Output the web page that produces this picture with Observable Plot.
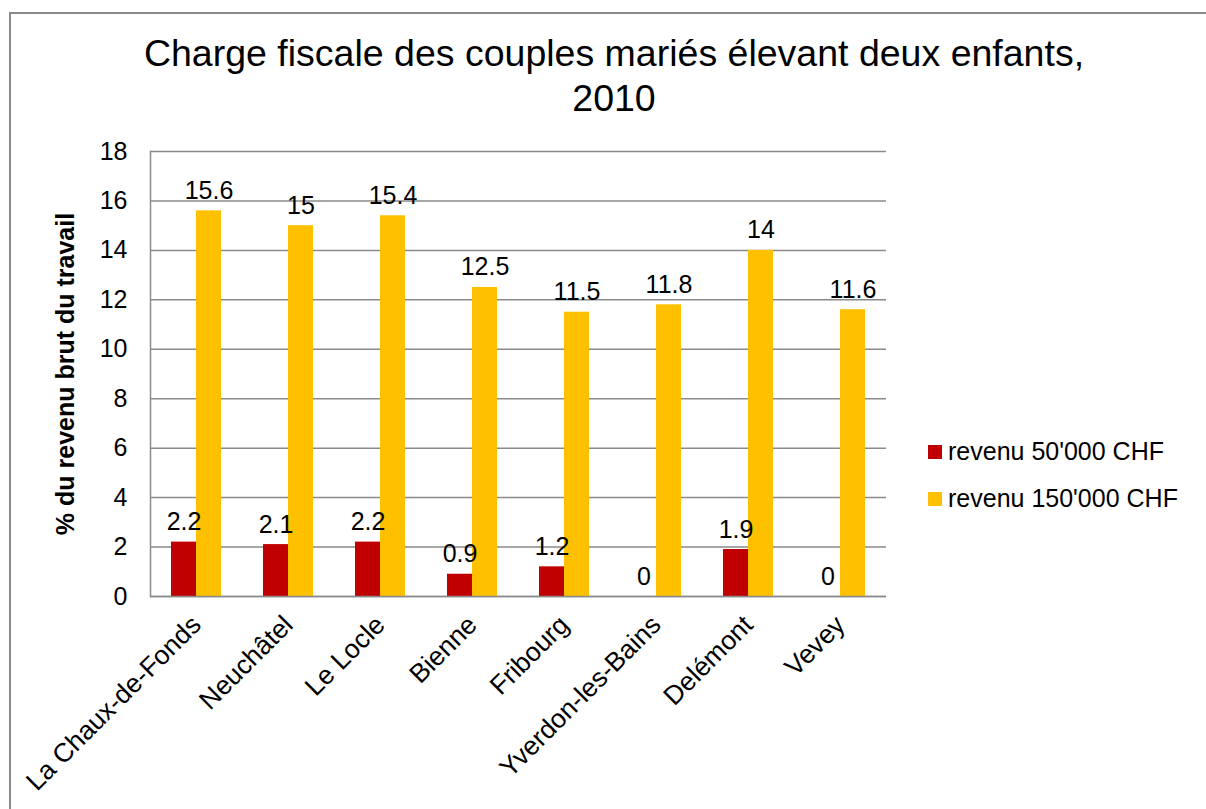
<!DOCTYPE html>
<html>
<head>
<meta charset="utf-8">
<script src="https://cdn.jsdelivr.net/npm/d3@7"></script>
<script src="https://cdn.jsdelivr.net/npm/@observablehq/plot@0.6"></script>
<style>
  html, body { margin: 0; padding: 0; background: #fff; }
  #wrap { position: relative; width: 1206px; height: 809px; overflow: hidden; font-family: "Liberation Sans", Arial, sans-serif; color: #000; }
  #border { position: absolute; left: 9px; top: 12px; width: 1400px; height: 1000px; border: 2px solid #8a8a8a; box-sizing: border-box; }
  #title { position: absolute; left: 0; top: 31px; width: 1228px; text-align: center; font-size: 37.5px; line-height: 45px; }
  #chart { position: absolute; left: 0; top: 0; }
  #legend { position: absolute; left: 928px; top: 428px; font-size: 25px; }
  .item { display: flex; align-items: center; height: 47px; }
  .sw { width: 14px; height: 14px; margin-right: 6px; }
</style>
</head>
<body>
<div id="wrap">
  <div id="border"></div>
  <div id="chart"></div>
  <div id="title">Charge fiscale des couples mariés élevant deux enfants,<br>2010</div>
  <div id="legend"></div>
</div>
<script>
const cities = ["La Chaux-de-Fonds", "Neuchâtel", "Le Locle", "Bienne", "Fribourg", "Yverdon-les-Bains", "Delémont", "Vevey"];
const series = ["revenu 50'000 CHF", "revenu 150'000 CHF"];
const revenu50 = [2.2, 2.1, 2.2, 0.9, 1.2, 0, 1.9, 0];
const revenu150 = [15.6, 15, 15.4, 12.5, 11.5, 11.8, 14, 11.6];
const yTicks = [0, 2, 4, 6, 8, 10, 12, 14, 16, 18];
const colors = ["#C00000", "#FFC000"];
const yLabel = "% du revenu brut du travail";

const data = cities.flatMap((c, i) => [
  {city: c, series: series[0], value: revenu50[i]},
  {city: c, series: series[1], value: revenu150[i]}
]);

const grid = "#8a8a8a";

const chart = Plot.plot({
  width: 1206,
  height: 809,
  marginLeft: 150,
  marginRight: 320,
  marginTop: 151,
  marginBottom: 213,
  style: {fontFamily: "'Liberation Sans', Arial, sans-serif", color: "#000", background: "transparent", overflow: "visible"},
  fx: {domain: cities, padding: 0, label: null, axis: null},
  x: {domain: series, paddingInner: 0, paddingOuter: 0.77, axis: null},
  y: {domain: [0, 18], ticks: yTicks, label: null, axis: null},
  color: {domain: series, range: colors},
  marks: [
    Plot.gridY(yTicks, {stroke: grid, strokeOpacity: 1, strokeWidth: 1.5}),
    Plot.barY(data, {fx: "city", x: "series", y: "value", fill: "series"}),
    Plot.text(data, {fx: "city", x: "series", y: "value", text: d => String(d.value), lineAnchor: "bottom", dy: -12, fontSize: 25, fill: "#000"}),
    Plot.ruleY([0], {stroke: grid, strokeWidth: 1.5}),
    Plot.frame({anchor: "left", facet: "super", stroke: grid, strokeWidth: 1.5}),
    Plot.axisY(yTicks, {tickSize: 0, tickPadding: 23, fontSize: 25, label: null}),
    Plot.axisY({ticks: [], label: yLabel, labelAnchor: "center", labelArrow: "none", labelOffset: 94, fontSize: 25, fontWeight: "bold"}),
    Plot.axisFx({anchor: "bottom", tickRotate: -45, tickSize: 0, tickPadding: 24, fontSize: 26.5, label: null})
  ]
});
document.getElementById("chart").appendChild(chart);

const legend = document.getElementById("legend");
series.forEach((s, i) => {
  const row = document.createElement("div");
  row.className = "item";
  const sw = document.createElement("div");
  sw.className = "sw";
  sw.style.background = colors[i];
  const t = document.createElement("span");
  t.textContent = s;
  row.appendChild(sw);
  row.appendChild(t);
  legend.appendChild(row);
});
</script>
</body>
</html>
